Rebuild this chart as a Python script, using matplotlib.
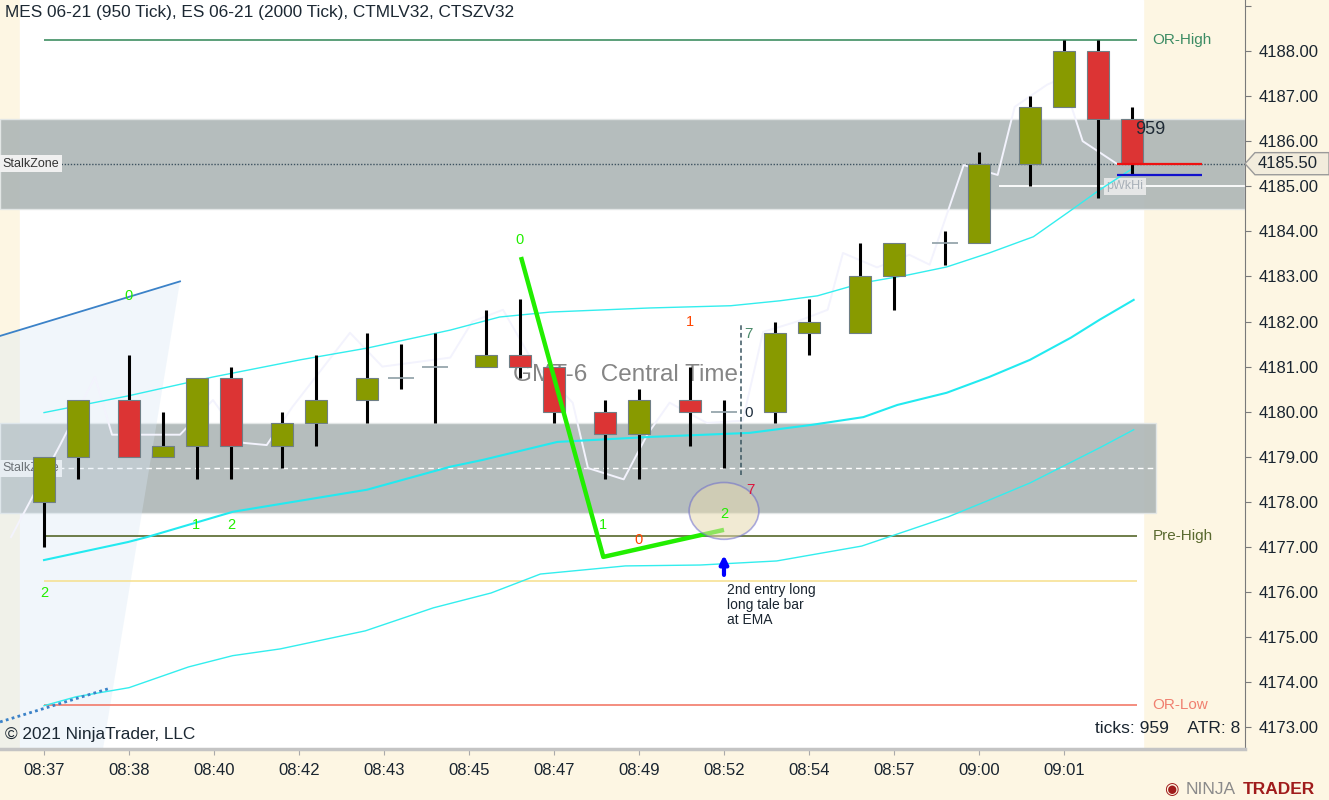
import numpy as np
import matplotlib.pyplot as plt
from matplotlib.patches import Rectangle, Ellipse, Polygon
import matplotlib.transforms as mtransforms

plt.rcParams['font.family'] = ['Liberation Sans', 'DejaVu Sans']

# ES 2000 tick bars, x = slot index on the 950-tick time line
bar_x = [0, 2, 5, 7, 9, 11, 14, 16, 19, 21, 23, 26, 28, 30, 33, 35, 38, 40, 43, 45, 48, 50, 53, 55, 58, 60, 62, 64]
bar_open = [4178, 4179, 4180.25, 4179, 4179.25, 4180.75, 4179.25, 4179.75, 4180.25, 4180.75, 4181, 4181, 4181.25, 4181,
            4180, 4179.5, 4180.25, 4180, 4180, 4181.75, 4181.75, 4183, 4183.75, 4183.75, 4185.5, 4186.75, 4188, 4186.5]
bar_high = [4179, 4180.25, 4181.25, 4180, 4180.75, 4181, 4180, 4181.25, 4181.75, 4181.5, 4181.75, 4182.25, 4182.5, 4181,
            4180.25, 4180.5, 4181, 4180.25, 4182, 4182.5, 4183.75, 4183.75, 4184, 4185.75, 4187, 4188.25, 4188.25, 4186.75]
bar_low = [4177, 4178.5, 4179, 4179, 4178.5, 4178.5, 4178.75, 4179.25, 4179.75, 4180.5, 4179.75, 4181, 4180.75, 4179.75,
           4178.5, 4178.5, 4179.25, 4178.75, 4179.75, 4181.25, 4181.75, 4182.25, 4183.25, 4183.75, 4185, 4186.75, 4184.75, 4185.25]
bar_close = [4179, 4180.25, 4179, 4179.25, 4180.75, 4179.25, 4179.75, 4180.25, 4180.75, 4180.75, 4181, 4181.25, 4181, 4180,
             4179.5, 4180.25, 4180, 4180, 4181.75, 4182, 4183, 4183.75, 4183.75, 4185.5, 4186.75, 4188, 4186.5, 4185.5]

tick_slots = [0, 5, 10, 15, 20, 25, 30, 35, 40, 45, 50, 55, 60]
tick_labels = ['08:37', '08:38', '08:40', '08:42', '08:43', '08:45', '08:47', '08:49',
               '08:52', '08:54', '08:57', '09:00', '09:01']

# bands
upper_x = [0, 4.94, 9.94, 15.06, 19, 23.9, 26.8, 29.8, 35.6, 40.4, 43.3, 45.5, 48.2, 50.8, 53.1, 55.6, 58.2, 60.2, 62.1, 64.1]
upper_y = [4179.98, 4180.35, 4180.77, 4181.15, 4181.41, 4181.81, 4182.1, 4182.21, 4182.3, 4182.35, 4182.46, 4182.57,
           4182.86, 4183.03, 4183.21, 4183.52, 4183.88, 4184.41, 4184.92, 4185.41]
ema_x = [0, 4.94, 6.06, 11.1, 19, 23.9, 25.8, 30.2, 35.6, 41.5, 45.2, 48.2, 50.2, 53.1, 55.6, 58, 60.4, 62.1, 64.1]
ema_y = [4176.71, 4177.11, 4177.22, 4177.78, 4178.27, 4178.78, 4178.93, 4179.33, 4179.44, 4179.53, 4179.71, 4179.88,
         4180.15, 4180.42, 4180.77, 4181.15, 4181.64, 4182.04, 4182.48]
lower_x = [0, 1.9, 5, 8.5, 11.1, 13.9, 18.9, 22.9, 26.3, 29.2, 34.2, 38.6, 43.1, 48.1, 53.2, 55.6, 58, 62.1, 64.1]
lower_y = [4173.48, 4173.68, 4173.88, 4174.34, 4174.59, 4174.74, 4175.14, 4175.65, 4175.98, 4176.4, 4176.58, 4176.6,
           4176.69, 4177.02, 4177.67, 4178.04, 4178.42, 4179.2, 4179.6]
fast_x = [-1.94, 0.94, 3, 4, 8, 9.94, 11.7, 13.1, 14.6, 18, 19.9, 23.9, 25.2, 27, 28.8, 31.1, 32, 34.1, 35.5, 36.8, 39,
          41.1, 42.3, 44.3, 46.1, 47, 49, 50.9, 52.1, 54.1, 56.1, 57.1, 59, 59.9, 61.1, 63.1]
fast_y = [4177.22, 4179.26, 4180.77, 4179.49, 4179.49, 4180.26, 4179.31, 4179.26, 4180.1, 4181.75, 4181.0, 4181.2,
          4182.0, 4182.26, 4181.08, 4180.2, 4178.75, 4178.5, 4179.5, 4180.2, 4179.75, 4179.8, 4181.77, 4182.0, 4182.26,
          4183.52, 4183.2, 4183.48, 4183.26, 4185.47, 4185.25, 4186.76, 4187.25, 4187.4, 4186.0, 4185.5]

# levels
or_high = 4188.25
pre_high = 4177.25
yellow_lvl = 4176.25
or_low = 4173.5
pwk_hi = 4185.0
last_price = 4185.5
stalk_upper = (4184.5, 4186.5)
stalk_lower = (4177.75, 4179.75)

zig_x = [28.06, 32.9, 40.0]
zig_y = [4183.43, 4176.78, 4177.38]

XMIN, XMAX = -2.59, 70.65
YMIN, YMAX = 4172.52, 4189.13

fig = plt.figure(figsize=(13.29, 8), dpi=100)
fig.patch.set_facecolor('#fdf6e3')
ax = fig.add_axes([0, 51 / 800, 1245 / 1329, 749 / 800])
ax.set_facecolor('#fdf6e3')
ax.set_xlim(XMIN, XMAX)
ax.set_ylim(YMIN, YMAX)

ax.axvspan(-1.41, 64.65, color='white', zorder=0)

# stalk zones
ax.add_patch(Rectangle((XMIN, stalk_upper[0]), XMAX - XMIN, stalk_upper[1] - stalk_upper[0],
                       fc='#adb6b6', alpha=0.9, ec='#e4e8e8', lw=1, zorder=1))
ax.add_patch(Rectangle((XMIN, stalk_lower[0]), 65.4 - XMIN, stalk_lower[1] - stalk_lower[0],
                       fc='#adb6b6', alpha=0.9, ec='#e4e8e8', lw=1, zorder=1))
ax.hlines(sum(stalk_lower) / 2, XMIN, 65.4, color='white', ls=(0, (4, 3)), lw=1, zorder=1.5)
ax.axhline(last_price, color='#3d5260', ls=(0, (1, 1.2)), lw=1, zorder=1.5)
ax.text(XMIN + 0.15, sum(stalk_upper) / 2, 'StalkZone', fontsize=9, color='#333333', va='center', zorder=2,
        bbox=dict(boxstyle='square,pad=0.2', fc='#f0f0f0', ec='none'))
ax.text(XMIN + 0.15, sum(stalk_lower) / 2, 'StalkZone', fontsize=9, color='#333333', va='center', zorder=2,
        bbox=dict(boxstyle='square,pad=0.2', fc='#f0f0f0', ec='none'))

# fan on the left
ax.add_patch(Polygon([(XMIN, 4181.68), (8.0, 4182.89), (3.47, YMIN), (XMIN, YMIN)],
                     closed=True, fc='#d8e8f6', alpha=0.35, ec='none', zorder=2))
ax.plot([XMIN, 8.0], [4181.68, 4182.89], color='#3b82c8', lw=1.3, zorder=3)
ax.plot([XMIN, 3.9], [4173.12, 4173.87], color='#3b82c8', lw=2, ls=(0, (1, 1.2)), zorder=3)

# horizontal levels
ax.hlines(or_high, 0, 64.3, color='#3f8f62', lw=1.2, zorder=2)
ax.hlines(pre_high, 0, 64.3, color='#56672a', lw=1.2, zorder=2)
ax.hlines(yellow_lvl, 0, 64.3, color='#f6df8c', lw=1.1, zorder=2)
ax.hlines(or_low, 0, 64.3, color='#f27a6a', lw=1.2, zorder=2)
ax.text(65.2, or_high, 'OR-High', fontsize=11, color='#3c8c64', va='center')
ax.text(65.2, pre_high, 'Pre-High', fontsize=11, color='#5a6a30', va='center')
ax.text(65.2, or_low, 'OR-Low', fontsize=11, color='#f08070', va='center')

ax.hlines(pwk_hi, 56.2, XMAX, color='white', lw=1.3, zorder=2)
ax.text(62.5, pwk_hi, 'pWkHi', fontsize=9, color='#a8b0b8', va='center', zorder=2.5,
        bbox=dict(boxstyle='square,pad=0.2', fc='#eeeeee', ec='none', alpha=0.85))

# bands
ax.plot(fast_x, fast_y, color='#f3f3fd', lw=1.4, zorder=2.5)
ax.plot(upper_x, upper_y, color='#33eeee', lw=1.0, zorder=2.6)
ax.plot(ema_x, ema_y, color='#22eaf0', lw=1.5, zorder=2.6)
ax.plot(lower_x, lower_y, color='#33eeee', lw=1.0, zorder=2.6)

ax.text(34.2, 4180.82, 'GMT-6  Central Time', fontsize=17.5, color='#858585', ha='center', va='center', zorder=3)

# candles
for x, o, h, l, c in zip(bar_x, bar_open, bar_high, bar_low, bar_close):
    ax.vlines(x, l, h, color='black', lw=2.2, zorder=4)
    if c == o:
        ax.hlines(o, x - 0.75, x + 0.75, color='#8e9ea6', lw=1.2, zorder=5)
        continue
    col = '#889a00' if c > o else '#dc3434'
    ax.add_patch(Rectangle((x - 0.65, min(o, c)), 1.3, abs(c - o), fc=col, ec='#6f7f86', lw=0.8, zorder=5))

# zigzag and annotations
ax.plot(zig_x, zig_y, color='#22ee00', lw=3.2, zorder=6, solid_capstyle='butt')
ax.add_patch(Ellipse((40.0, 4177.8), 4.1, 1.26, fc='#e6dab0', alpha=0.55, ec='#6a6acd', lw=1.2, zorder=6))
ax.annotate('', xy=(40.0, 4176.82), xytext=(40.0, 4176.38),
            arrowprops=dict(arrowstyle='-|>', color='#0000ff', lw=3, mutation_scale=12, shrinkA=0, shrinkB=0),
            zorder=7)
ax.text(40.2, 4176.2, '2nd entry long\nlong tale bar\nat EMA', fontsize=10, color='#1a2530', va='top',
        linespacing=1.1, zorder=7)

ax.vlines(41.0, 4178.6, 4181.93, color='#3a5560', ls=(0, (3, 2)), lw=1.1, zorder=6)
ax.text(41.2, 4181.72, '7', fontsize=11, color='#4a8a6a', va='center', zorder=7)
ax.text(41.2, 4179.97, '0', fontsize=11, color='#1a2a3a', va='center', zorder=7)
ax.text(41.3, 4178.27, '7', fontsize=11, color='#dc143c', va='center', zorder=7)
ax.text(38.0, 4182.0, '1', fontsize=10.5, color='#ff4500', ha='center', va='center', zorder=7)
# label mostly above the visible range, as in the source chart
ax.text(62.0, 4189.4, '1', fontsize=10.5, color='#ff4500', ha='center', va='center', zorder=7)

green_lbl = [(28.0, 4183.81, '0'), (32.9, 4177.49, '1'), (40.0, 4177.73, '2'),
             (4.94, 4182.57, '0'), (8.94, 4177.49, '1'), (11.0, 4177.49, '2'), (0.0, 4175.98, '2')]
for x, y, s in green_lbl:
    ax.text(x, y, s, fontsize=10.5, color='#22ee00', ha='center', va='center', zorder=7)
ax.text(35.0, 4177.16, '0', fontsize=10.5, color='#ff4500', ha='center', va='center', zorder=7)

# last price marks
ax.hlines(last_price, 63.1, 68.1, color='#ee1111', lw=1.6, zorder=6)
ax.hlines(last_price - 0.25, 63.1, 68.1, color='#1111cc', lw=1.6, zorder=6)
ax.text(64.2, 4186.25, '959', fontsize=13, color='#1e2a35', va='center', zorder=7)

# axes
for side in ['left', 'top']:
    ax.spines[side].set_visible(False)
ax.spines['right'].set_color('#7a7a7a')
ax.spines['bottom'].set_color('#c4c4c4')
ax.spines['bottom'].set_linewidth(2.5)
ax.yaxis.tick_right()
yt = np.arange(4173, 4190)
ax.set_yticks(yt, [f'{v:.2f}' if v < 4189 else '' for v in yt])
ax.tick_params(axis='y', direction='out', length=4.5, color='#7a7a7a', labelsize=12, pad=5, labelcolor='#1a2530')
ax.set_xticks(tick_slots, tick_labels)
ax.tick_params(axis='x', direction='out', length=4, color='#aaaaaa', labelsize=12, pad=6, labelcolor='#1a2530')

trans = mtransforms.blended_transform_factory(ax.transAxes, ax.transData)
ax.add_patch(Polygon([(1.0, last_price), (1.008, last_price + 0.245), (1.0675, last_price + 0.245),
                      (1.0675, last_price - 0.245), (1.008, last_price - 0.245)],
                     closed=True, transform=trans, clip_on=False, fc='#f2ecdc', ec='#9a9a9a', lw=1, zorder=8))
ax.text(1.0104, last_price, f'{last_price:.2f}', transform=trans, fontsize=12, color='#1a2530',
        va='center', clip_on=False, zorder=9)
ax.text(0.996, 4172.97, 'ticks: 959    ATR: 8', transform=trans, fontsize=12.5, color='#1a2530',
        ha='right', va='center', zorder=9)

fig.text(5 / 1329, 1 - 13 / 800, 'MES 06-21 (950 Tick), ES 06-21 (2000 Tick), CTMLV32, CTSZV32',
         fontsize=12.4, color='#1c2833', va='center')
fig.text(5 / 1329, 1 - 734 / 800, '\u00a9 2021 NinjaTrader, LLC', fontsize=12.4, color='#1c2833', va='center')
fig.text(1171 / 1329, 1 - 790 / 800, '\u25c9', fontsize=12, color='#a01c1c', ha='center', va='center')
fig.text(1186 / 1329, 1 - 790 / 800, 'NINJA', fontsize=12.5, color='#8a8a8a', va='center')
fig.text(1243 / 1329, 1 - 790 / 800, 'TRADER', fontsize=12.5, color='#a01c1c', va='center', fontweight='bold')

fig.savefig('out.png', dpi=100, facecolor=fig.get_facecolor())
